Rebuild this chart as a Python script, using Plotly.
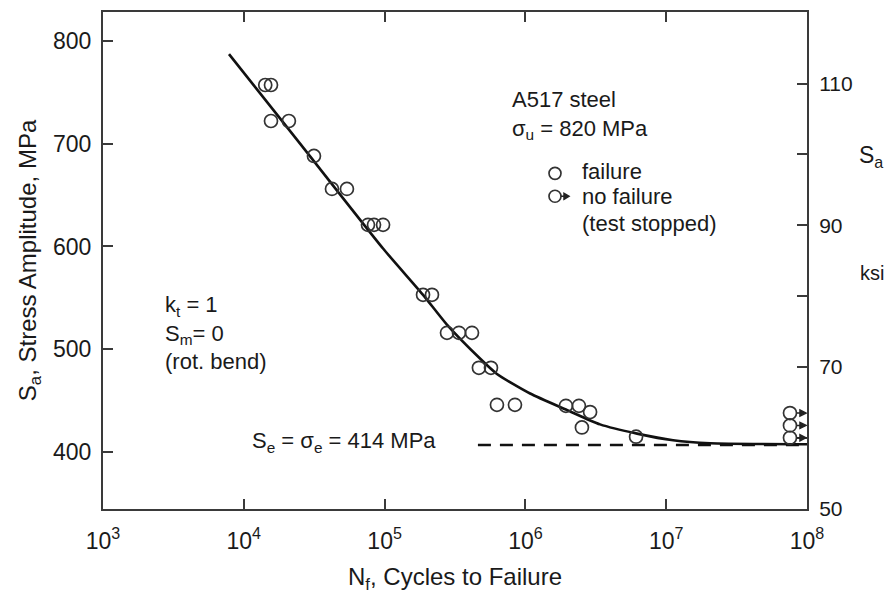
import plotly.graph_objects as go

# ---------------- data ----------------
# failures: cycles to failure and stress amplitude (MPa)
fail_N = [14200, 15600, 15600, 20900, 31500, 42300, 54000, 76200, 84100, 97500,
          187500, 217000, 277500, 337500, 417500, 467500, 569500, 628000, 843000,
          1.94e6, 2.40e6, 2.88e6, 2.52e6, 6.11e6]
fail_S = [757, 757, 722, 722, 688, 656, 656, 621, 621, 621,
          553, 553, 516, 516, 516, 482, 482, 446, 446,
          445, 445, 439, 424, 415]

# run-outs (no failure, test stopped)
run_N = [7.57e7, 7.57e7, 7.57e7]
run_S = [438, 426, 414]

# fitted S-N curve
curve_N = [7.85e3, 2.51e4, 9.75e4, 1.875e5, 2.77e5, 4.76e5, 6.28e5, 1.08e6,
           1.97e6, 3.39e6, 6.21e6, 1.12e7, 2.05e7, 1e8]
curve_S = [787, 700, 598, 553, 524, 491, 476, 457, 441, 427, 418, 411.5, 408.6, 407.7]

# endurance limit line
endur_N = [4.6e5, 1e8]
endur_S = [407, 407]

x_tickvals = [1e3, 1e4, 1e5, 1e6, 1e7, 1e8]
x_ticktext = ["10<sup>3</sup>", "10<sup>4</sup>", "10<sup>5</sup>",
              "10<sup>6</sup>", "10<sup>7</sup>", "10<sup>8</sup>"]
y_tickvals = [400, 500, 600, 700, 800]

MPA_PER_KSI = 6.895
y_range = [344.7, 828]

FONT = "Liberation Sans, Arial, sans-serif"
INK = "#1a1a1a"
AX = "#3a3a3a"
FS_TICK = 23
FS_TITLE = 24
FS_NOTE = 22

# the page body adds an 8 px offset; the figure is sized to fill the window
OFF = 8
W, H = 893 - OFF, 601 - OFF
L, R, T, B = 103, 807, 10, 509   # frame edges in window pixels

fig = go.Figure()

fig.add_trace(go.Scatter(x=curve_N, y=curve_S, mode="lines",
                         line=dict(color="#111111", width=2.6, shape="spline", smoothing=0.6),
                         showlegend=False, hoverinfo="skip"))
fig.add_trace(go.Scatter(x=endur_N, y=endur_S, mode="lines",
                         line=dict(color="#111111", width=2.6, dash="13px,9px"),
                         showlegend=False, hoverinfo="skip"))
fig.add_trace(go.Scatter(x=fail_N, y=fail_S, mode="markers", name="failure",
                         marker=dict(symbol="circle-open", size=13, color="#333333",
                                     line=dict(width=1.7, color="#333333")),
                         showlegend=False))
fig.add_trace(go.Scatter(x=run_N, y=run_S, mode="markers", name="no failure",
                         marker=dict(symbol="circle-open", size=13, color="#333333",
                                     line=dict(width=1.7, color="#333333")),
                         showlegend=False))
# dummy trace to activate the right-hand ksi axis
fig.add_trace(go.Scatter(x=[1e8], y=[None], yaxis="y2", showlegend=False, hoverinfo="skip"))

ARROW_PATH = "M 7,0 L 11,0 M 10,-3 L 16,0 L 10,3 Z"

shapes = []
# run-out arrows anchored at each run-out point
for n, s in zip(run_N, run_S):
    shapes.append(dict(type="path", xref="x", yref="y", xsizemode="pixel", ysizemode="pixel",
                       xanchor=n, yanchor=s, path=ARROW_PATH,
                       line=dict(color="#222222", width=1.5), fillcolor="#222222"))

annotations = []

def px(xp, yp):
    return (xp - L) / (R - L), (B - yp) / (B - T)

def txt(xp, yp, t, size=FS_NOTE):
    x0, y0 = px(xp, yp)
    annotations.append(dict(x=x0, y=y0, xref="paper", yref="paper", text=t,
                            showarrow=False, xanchor="left", yanchor="middle", align="left",
                            font=dict(family=FONT, size=size, color=INK)))

txt(510, 113, "A517 steel<br>σ<sub>u</sub> = 820 MPa", size=22)
txt(580, 170, "failure")
txt(580, 195, "no failure")
txt(580, 222, "(test stopped)")
txt(163, 332, "k<sub>t</sub> = 1<br>S<sub>m</sub>= 0<br>(rot. bend)", size=22)
txt(250, 442, "S<sub>e</sub> = σ<sub>e</sub> = 414 MPa")
txt(857, 155, "S<sub>a</sub>", size=23)
txt(858, 272, "ksi", size=20)

# legend symbols
for yy, arrow in ((172, False), (195, True)):
    cx, cy = px(555, yy)
    shapes.append(dict(type="circle", xref="paper", yref="paper",
                       xsizemode="pixel", ysizemode="pixel", xanchor=cx, yanchor=cy,
                       x0=-6, x1=6, y0=-6, y1=6, line=dict(color="#333333", width=1.7)))
    if arrow:
        shapes.append(dict(type="path", xref="paper", yref="paper",
                           xsizemode="pixel", ysizemode="pixel", xanchor=cx, yanchor=cy,
                           path="M 6,0 L 10,0 M 9,-3 L 14,0 L 9,3 Z",
                           line=dict(color="#222222", width=1.5), fillcolor="#222222"))

fig.update_layout(
    width=W, height=H,
    margin=dict(l=L - OFF, r=893 - R, t=T - OFF, b=601 - B),
    paper_bgcolor="white", plot_bgcolor="white",
    font=dict(family=FONT, size=FS_TICK, color=INK),
    showlegend=False,
    annotations=annotations,
    shapes=shapes,
    xaxis=dict(type="log", range=[3, 8], tickvals=x_tickvals, ticktext=x_ticktext,
               ticks="inside", ticklen=10, tickwidth=1.5, tickcolor=AX,
               showline=True, linecolor=AX, linewidth=2, mirror="ticks",
               showgrid=False, zeroline=False, ticklabelstandoff=10,
               tickfont=dict(size=FS_TICK),
               title=dict(text="N<sub>f</sub>, Cycles to Failure", standoff=16,
                          font=dict(size=FS_TITLE))),
    yaxis=dict(range=y_range, tickvals=y_tickvals, ticks="inside", ticklen=10,
               tickwidth=1.5, tickcolor=AX, showline=True, linecolor=AX, linewidth=2,
               showgrid=False, zeroline=False, ticklabelstandoff=5,
               tickfont=dict(size=FS_TICK),
               title=dict(text="S<sub>a</sub>, Stress Amplitude, MPa", standoff=10,
                          font=dict(size=FS_TITLE))),
    yaxis2=dict(overlaying="y", side="right",
                range=[y_range[0] / MPA_PER_KSI, y_range[1] / MPA_PER_KSI],
                tick0=50, dtick=20, ticks="inside", ticklen=10,
                tickwidth=1.5, tickcolor=AX, showline=True, linecolor=AX, linewidth=2,
                showgrid=False, zeroline=False, ticklabelstandoff=6,
                tickfont=dict(size=21),
                minor=dict(tick0=50, dtick=10, ticks="inside", ticklen=10,
                           tickwidth=1.5, tickcolor=AX, showgrid=False)),
)

fig.write_html("out.html")
